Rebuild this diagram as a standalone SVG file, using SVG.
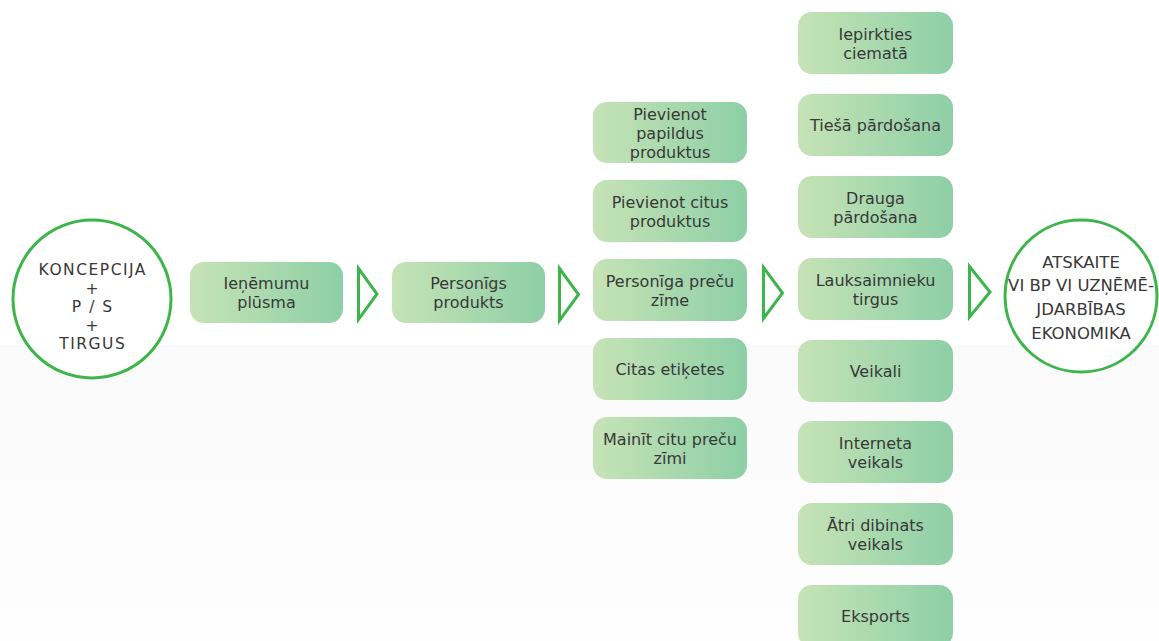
<svg xmlns="http://www.w3.org/2000/svg" width="1159" height="641" viewBox="0 0 1159 641">
<defs>
<linearGradient id="boxg" x1="0" y1="0" x2="1" y2="0">
<stop offset="0" stop-color="#c6e3b6"/>
<stop offset="1" stop-color="#8ecfa6"/>
</linearGradient>
<linearGradient id="bgg" x1="0" y1="0" x2="0" y2="1">
<stop offset="0" stop-color="#fafafa"/>
<stop offset="1" stop-color="#fefefe"/>
</linearGradient>
<style>
.box{fill:url(#boxg);}
.t{font-family:"DejaVu Sans","Liberation Sans",sans-serif;font-size:16px;fill:#383838;text-anchor:middle;}
.c{font-family:"DejaVu Sans","Liberation Sans",sans-serif;font-size:15.5px;letter-spacing:1.5px;fill:#383838;text-anchor:middle;}
.c2{font-family:"DejaVu Sans","Liberation Sans",sans-serif;font-size:16.5px;fill:#383838;text-anchor:middle;}
.circ{fill:#ffffff;stroke:#3db54a;stroke-width:3;}
.tri{fill:none;stroke:#3db54a;stroke-width:3;stroke-linejoin:miter;}
</style>
</defs>
<rect width="1159" height="641" fill="#ffffff"/>
<rect y="345" width="1159" height="296" fill="url(#bgg)"/>

<g id="connectors">
<polygon class="tri" points="358.5,268.5 377,294 358.5,319.5"/>
<polygon class="tri" points="559.5,268.5 578.5,294.5 559.5,320.5"/>
<polygon class="tri" points="763.5,267.5 782.5,293 763.5,318.5"/>
<polygon class="tri" points="969.5,266.5 990,292 969.5,317"/>
</g>

<g id="koncepcija">
<circle class="circ" cx="92" cy="299" r="79"/>
<text class="c"><tspan x="92.75" y="275">KONCEPCIJA</tspan><tspan x="92.75" y="293.5">+</tspan><tspan x="92.75" y="312">P / S</tspan><tspan x="92.75" y="330.5">+</tspan><tspan x="92.75" y="349">TIRGUS</tspan></text>
</g>

<g id="ienemumu">
<rect class="box" x="190" y="262" width="153" height="61" rx="14"/>
<text class="t"><tspan x="266.5" y="289">Ieņēmumu</tspan><tspan x="266.5" y="308">plūsma</tspan></text>
</g>

<g id="personigs">
<rect class="box" x="392" y="262" width="153" height="61" rx="14"/>
<text class="t"><tspan x="468.5" y="289">Personīgs</tspan><tspan x="468.5" y="308">produkts</tspan></text>
</g>

<g id="papildus">
<rect class="box" x="593" y="102" width="154" height="61" rx="14"/>
<text class="t"><tspan x="670" y="119.5">Pievienot</tspan><tspan x="670" y="138.5">papildus</tspan><tspan x="670" y="157.5">produktus</tspan></text>
</g>

<g id="citus">
<rect class="box" x="593" y="180" width="154" height="62" rx="14"/>
<text class="t"><tspan x="670" y="207.5">Pievienot citus</tspan><tspan x="670" y="226.5">produktus</tspan></text>
</g>

<g id="precu-zime">
<rect class="box" x="593" y="259" width="154" height="62" rx="14"/>
<text class="t"><tspan x="670" y="286.5">Personīga preču</tspan><tspan x="670" y="305.5">zīme</tspan></text>
</g>

<g id="etiketes">
<rect class="box" x="593" y="338" width="154" height="62" rx="14"/>
<text class="t" x="670" y="375">Citas etiķetes</text>
</g>

<g id="mainit">
<rect class="box" x="593" y="417" width="154" height="62" rx="14"/>
<text class="t"><tspan x="670" y="444.5">Mainīt citu preču</tspan><tspan x="670" y="463.5">zīmi</tspan></text>
</g>

<g id="iepirkties">
<rect class="box" x="798" y="12" width="155" height="62" rx="14"/>
<text class="t"><tspan x="875.5" y="39.5">Iepirkties</tspan><tspan x="875.5" y="58.5">ciematā</tspan></text>
</g>

<g id="tiesa">
<rect class="box" x="798" y="94" width="155" height="62" rx="14"/>
<text class="t" x="875.5" y="131">Tiešā pārdošana</text>
</g>

<g id="drauga">
<rect class="box" x="798" y="176" width="155" height="62" rx="14"/>
<text class="t"><tspan x="875.5" y="203.5">Drauga</tspan><tspan x="875.5" y="222.5">pārdošana</tspan></text>
</g>

<g id="lauksaimnieku">
<rect class="box" x="798" y="258" width="155" height="62" rx="14"/>
<text class="t"><tspan x="875.5" y="285.5">Lauksaimnieku</tspan><tspan x="875.5" y="304.5">tirgus</tspan></text>
</g>

<g id="veikali">
<rect class="box" x="798" y="340" width="155" height="62" rx="14"/>
<text class="t" x="875.5" y="377">Veikali</text>
</g>

<g id="interneta">
<rect class="box" x="798" y="421" width="155" height="62" rx="14"/>
<text class="t"><tspan x="875.5" y="448.5">Interneta</tspan><tspan x="875.5" y="467.5">veikals</tspan></text>
</g>

<g id="atri">
<rect class="box" x="798" y="503" width="155" height="62" rx="14"/>
<text class="t"><tspan x="875.5" y="530.5">Ātri dibinats</tspan><tspan x="875.5" y="549.5">veikals</tspan></text>
</g>

<g id="eksports">
<rect class="box" x="798" y="585" width="155" height="62" rx="14"/>
<text class="t" x="875.5" y="622">Eksports</text>
</g>

<g id="atskaite">
<circle class="circ" cx="1081" cy="296" r="76"/>
<text class="c2"><tspan x="1081" y="268">ATSKAITE</tspan><tspan x="1081" y="291">VI BP VI UZŅĒMĒ-</tspan><tspan x="1081" y="315">JDARBĪBAS</tspan><tspan x="1081" y="339">EKONOMIKA</tspan></text>
</g>
</svg>
